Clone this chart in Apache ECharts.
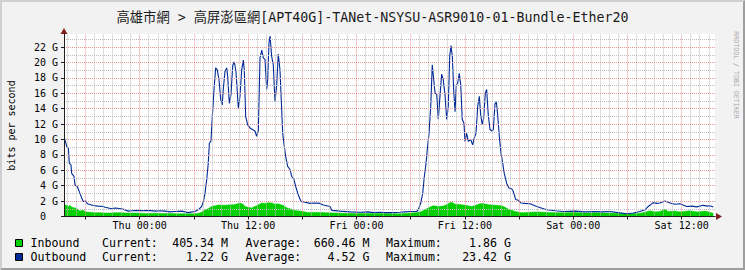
<!DOCTYPE html>
<html><head><meta charset="utf-8">
<script src="https://cdn.jsdelivr.net/npm/echarts@6/dist/echarts.min.js"></script>
<style>
html,body{margin:0;padding:0;background:#f2f2f2;}
#wrap{position:relative;width:745px;height:270px;overflow:hidden;}
#chart{position:absolute;left:0;top:0;width:745px;height:270px;}
#frame{position:absolute;left:0;top:0;width:745px;height:270px;box-sizing:border-box;border-left:2px solid #cfcfcf;border-top:2px solid #cfcfcf;border-right:2px solid #9e9e9e;border-bottom:2px solid #9e9e9e;pointer-events:none;}
</style></head>
<body><div id="wrap"><div id="chart"></div><div id="frame"></div></div>
<script>
// ---- texts ----
const titleText = '高雄市網 > 高屏澎區網[APT40G]-TANet-NSYSU-ASR9010-01-Bundle-Ether20';
const yAxisTitle = 'bits per second';
const watermark = 'RRDTOOL / TOBI OETIKER';

// ---- ticks (hours relative to Thu 00:00) ----
const xLabelHours = [0, 12, 24, 36, 48, 60];
const xLabels = ['Thu 00:00', 'Thu 12:00', 'Fri 00:00', 'Fri 12:00', 'Sat 00:00', 'Sat 12:00'];
const xMajorHours = [-6, 0, 6, 12, 18, 24, 30, 36, 42, 48, 54, 60];
const xMinorHours = [-8, -7, -5, -4, -3, -2, -1, 1, 2, 3, 4, 5, 7, 8, 9, 10, 11, 13, 14, 15, 16, 17, 19, 20, 21, 22, 23,
  25, 26, 27, 28, 29, 31, 32, 33, 34, 35, 37, 38, 39, 40, 41, 43, 44, 45, 46, 47, 49, 50, 51, 52, 53, 55, 56, 57, 58, 59, 61, 62, 63];
const yLabelValues = [0, 2, 4, 6, 8, 10, 12, 14, 16, 18, 20, 22];
const yLabels = ['0\u00a0\u00a0', '2 G', '4 G', '6 G', '8 G', '10 G', '12 G', '14 G', '16 G', '18 G', '20 G', '22 G'];
const yMajorValues = [2, 4, 6, 8, 10, 12, 14, 16, 18, 20, 22];
const yMinorValues = [1, 3, 5, 7, 9, 11, 13, 15, 17, 19, 21, 23];

// ---- Inbound (Gbit/s) ----
const inHours = [-8.33,-8.08,-7.88,-7.72,-7.50,-7.27,-6.94,-6.61,-6.28,-5.95,
  -5.51,-4.95,-4.40,-3.84,-3.29,-2.73,-2.18,-1.44,-0.52,0.59,
  1.69,2.25,3.35,4.10,5.01,5.93,6.45,6.86,7.23,7.56,
  7.97,8.34,8.70,9.44,9.81,10.55,11.10,11.44,11.66,11.99,
  12.40,12.65,12.95,13.51,13.87,14.24,14.65,14.98,15.31,15.72,
  15.97,16.27,16.64,17.19,17.75,18.67,19.41,20.70,21.62,22.54,
  23.84,24.94,26.24,27.16,28.08,28.82,29.37,29.92,30.59,31.22,
  31.58,31.95,32.25,32.51,33.06,33.58,33.91,34.35,34.57,34.91,
  35.46,35.82,36.34,36.75,37.23,37.67,38.01,38.45,38.97,39.44,
  40.08,40.44,40.81,41.22,41.55,42.29,43.21,43.98,44.87,45.98,
  47.08,48.19,49.30,50.41,51.51,52.62,53.73,54.61,55.38,55.94,
  56.49,57.05,57.60,58.15,58.49,59.26,59.81,60.92,61.70,62.58,
  63.13,63.50];
const inValues = [1.5,1.45,1.3,1.45,1.2,1.15,1.0,0.7,0.8,0.6,
  0.55,0.5,0.5,0.45,0.45,0.5,0.5,0.45,0.45,0.4,
  0.42,0.4,0.38,0.35,0.37,0.35,0.4,0.55,0.87,1.0,
  1.3,1.4,1.5,1.45,1.5,1.55,1.75,1.6,1.3,1.2,
  1.1,1.25,1.4,1.75,1.7,1.8,1.75,1.6,1.65,1.5,
  1.4,1.15,1.0,0.78,0.7,0.52,0.55,0.5,0.45,0.42,
  0.4,0.38,0.4,0.38,0.35,0.35,0.4,0.45,0.5,0.65,
  0.9,1.1,1.3,1.4,1.3,1.35,1.5,1.8,1.86,1.6,
  1.55,1.5,1.4,1.3,1.45,1.65,1.7,1.55,1.5,1.45,
  1.4,1.2,0.95,0.8,0.65,0.5,0.55,0.6,0.55,0.5,
  0.48,0.52,0.45,0.5,0.45,0.42,0.4,0.38,0.42,0.55,
  0.75,0.6,0.65,0.95,0.65,0.7,0.6,0.75,0.6,0.7,
  0.55,0.41];

// ---- Outbound (Gbit/s) ----
const outHours = [-8.33,-8.08,-7.90,-7.79,-7.61,-7.53,-7.27,-7.16,-6.91,-6.61,
  -6.42,-6.24,-5.94,-5.80,-5.14,-4.62,-4.03,-3.84,-3.10,-2.73,
  -1.99,-1.26,-0.89,-0.15,0.37,0.95,1.69,2.25,2.80,3.35,
  3.91,4.65,5.01,5.38,5.79,6.12,6.51,6.86,7.06,7.23,
  7.42,7.59,7.71,7.89,8.04,8.23,8.41,8.59,8.78,8.97,
  9.14,9.25,9.44,9.63,9.74,9.92,10.11,10.30,10.47,10.66,
  10.92,11.10,11.29,11.47,11.58,11.73,11.96,12.21,12.47,12.76,
  12.95,13.13,13.32,13.51,13.68,13.87,14.06,14.17,14.31,14.43,
  14.61,14.79,14.98,15.17,15.34,15.53,15.72,15.83,16.01,16.16,
  16.38,16.64,16.83,17.08,17.27,17.56,17.86,18.30,18.85,19.41,
  19.96,20.33,20.70,21.07,21.26,22.18,23.29,24.40,25.30,25.86,
  26.60,27.16,28.08,28.82,29.37,29.92,30.66,30.84,31.11,31.33,
  31.51,31.70,31.84,32.03,32.22,32.39,32.55,32.70,32.88,33.06,
  33.24,33.43,33.61,33.80,33.99,34.16,34.32,34.46,34.61,34.76,
  34.91,35.05,35.20,35.38,35.54,35.71,35.90,36.01,36.20,36.38,
  36.64,36.86,37.04,37.23,37.42,37.60,37.75,37.93,38.08,38.26,
  38.41,38.59,38.78,38.97,39.15,39.33,39.48,39.63,39.81,40.00,
  40.19,40.36,40.63,40.88,41.18,41.36,41.63,41.91,42.21,42.65,
  43.21,43.95,45.06,45.98,46.90,48.19,49.30,50.22,51.18,52.07,
  52.95,53.91,54.64,55.38,55.94,56.30,56.86,57.23,57.60,58.15,
  58.71,59.26,59.81,60.56,61.11,61.66,62.39,62.91,63.13,63.50];
const outValues = [10.2,9.1,8.9,6.9,6.7,5.6,5.2,4.1,3.9,3.0,
  2.4,1.95,2.0,1.65,1.43,1.35,1.3,1.2,1.0,1.1,
  1.0,0.7,0.75,0.8,0.75,0.8,0.7,0.75,0.7,0.6,
  0.65,0.7,0.6,0.5,0.6,0.65,0.9,1.3,2.0,3.0,
  4.8,6.9,9.5,9.8,13.0,16.5,19.3,19.05,17.75,15.2,
  14.5,16.5,18.8,19.3,18.2,14.7,15.9,19.6,20.1,18.8,
  14.1,15.6,19.05,20.3,19.05,13.0,11.9,11.5,11.3,11.1,
  10.4,11.1,20.6,21.6,20.6,20.4,16.5,17.75,22.5,23.42,
  20.8,19.7,14.9,17.1,21.1,19.05,13.9,10.8,9.1,7.8,
  6.5,6.1,5.2,4.8,3.9,2.8,1.95,1.85,1.7,1.75,
  1.7,1.5,1.4,1.3,0.8,0.7,0.6,0.55,0.6,0.5,
  0.55,0.5,0.5,0.55,0.6,0.65,0.65,0.87,1.75,3.0,
  5.2,6.9,8.7,10.8,14.3,19.7,17.75,16.0,15.9,12.65,
  15.6,18.5,17.75,15.8,12.6,14.3,20.8,22.2,20.8,16.5,
  13.6,17.1,17.3,18.6,17.1,12.6,12.1,9.75,10.8,9.75,
  10.0,9.3,10.2,10.8,14.3,15.6,13.2,11.9,12.8,16.0,
  16.5,13.2,11.3,11.1,11.3,14.6,14.9,13.2,10.4,8.2,
  6.9,5.6,4.3,3.7,3.6,3.25,2.2,2.1,1.75,1.7,
  1.65,1.3,0.87,0.75,0.65,0.7,0.6,0.65,0.6,0.65,
  0.5,0.35,0.45,0.65,0.87,1.3,1.8,1.7,1.75,2.0,
  1.75,1.6,1.65,1.3,1.35,1.25,1.45,1.35,1.4,1.22];

// ---- legend ----
const legendNames = ['Inbound', 'Outbound'];
const legendColors = ['#00cf00', '#002a97'];
const currentText = ['405.34 M', '1.22 G'];
const averageText = ['660.46 M', '4.52 G'];
const maximumText = ['1.86 G', '23.42 G'];

// ---- styles ----
const MONO = '"DejaVu Sans Mono", "Noto Sans CJK TC", monospace';
const X_MIN = -8.38, X_MAX = 63.69, Y_MAX = 23.7;
const minorGrid = { color: '#bdbdbd', width: 1, type: [1, 1] };
const majorGrid = { color: '#ec9595', width: 1, type: [1, 1] };

const pair = (hs, vs) => hs.map((h, i) => [h, vs[i]]);
const gridLines = [].concat(
  xMinorHours.map(h => ({ xAxis: h, lineStyle: minorGrid })),
  yMinorValues.map(v => ({ yAxis: v, lineStyle: minorGrid })),
  xMajorHours.map(h => ({ xAxis: h, lineStyle: majorGrid })),
  yMajorValues.map(v => ({ yAxis: v, lineStyle: majorGrid }))
);

function txt(text, x, y, align, extra) {
  return Object.assign({
    type: 'text', x: x, y: y, silent: true,
    style: Object.assign({ text: text, fill: '#000', font: '11.6px ' + MONO,
      align: align, textAlign: align, verticalAlign: 'middle', textVerticalAlign: 'middle' }, extra || {})
  });
}
const rowY = [242.5, 256.5];
const graphics = [];
legendNames.forEach((n, i) => {
  const y = rowY[i];
  graphics.push({ type: 'rect', silent: true, shape: { x: 15.5, y: y - 3, width: 7, height: 7 },
    style: { fill: legendColors[i], stroke: '#000', lineWidth: 1 } });
  graphics.push(txt(n, 30.5, y, 'left'));
  graphics.push(txt('Current:', 102, y, 'left'));
  graphics.push(txt(currentText[i], 228, y, 'right'));
  graphics.push(txt('Average:', 245.5, y, 'left'));
  graphics.push(txt(averageText[i], 369.5, y, 'right'));
  graphics.push(txt('Maximum:', 386, y, 'left'));
  graphics.push(txt(maximumText[i], 511, y, 'right'));
});
graphics.push(Object.assign(txt(yAxisTitle, 11.5, 125.5, 'center', { font: '10px ' + MONO }), { rotation: Math.PI / 2 }));
graphics.push(Object.assign(txt(watermark, 736, 75, 'center', { font: '6.6px ' + MONO, fill: '#a6a6a6' }), { rotation: -Math.PI / 2 }));

const chart = echarts.init(document.getElementById('chart'), null, { renderer: 'svg' });
chart.setOption({
  animation: false,
  backgroundColor: '#f2f2f2',
  title: { text: titleText, left: 'center', top: 6,
    textStyle: { fontFamily: MONO, fontSize: 13.3, fontWeight: 'normal', color: '#1a1a1a' } },
  grid: { left: 64, right: 30, top: 34, bottom: 53.5, show: true, backgroundColor: '#ffffff', borderWidth: 0 },
  xAxis: [
    { type: 'value', min: X_MIN, max: X_MAX, position: 'bottom', z: 5,
      axisLine: { show: true, onZero: false, lineStyle: { color: '#1f1f1f', width: 1 } },
      axisTick: { show: true, customValues: xMajorHours, length: 3, lineStyle: { color: '#1f1f1f' } },
      axisLabel: { show: true, customValues: xLabelHours, margin: 4, color: '#000', fontFamily: MONO, fontSize: 10,
        formatter: v => { const k = xLabelHours.indexOf(v); return k >= 0 ? xLabels[k] : ''; } },
      splitLine: { show: false } },
    { type: 'value', min: X_MIN, max: X_MAX, position: 'bottom', z: 4,
      axisLine: { show: true, onZero: false, symbol: ['none', 'triangle'], symbolSize: [7, 6], symbolOffset: [0, 4],
        lineStyle: { color: '#801f1f', width: 1 } },
      axisTick: { show: false }, axisLabel: { show: false }, splitLine: { show: false } }
  ],
  yAxis: [
    { type: 'value', min: 0, max: Y_MAX, interval: 2, position: 'left', z: 5,
      axisLine: { show: true, onZero: false, lineStyle: { color: '#1f1f1f', width: 1 } },
      axisTick: { show: true, customValues: yLabelValues, length: 3, lineStyle: { color: '#1f1f1f' } },
      axisLabel: { show: true, customValues: yLabelValues, margin: 6, color: '#000', fontFamily: MONO, fontSize: 10,
        formatter: v => { const k = yLabelValues.indexOf(v); return k >= 0 ? yLabels[k] : ''; } },
      splitLine: { show: false } },
    { type: 'value', min: 0, max: Y_MAX, position: 'left', z: 4,
      axisLine: { show: true, onZero: false, symbol: ['none', 'triangle'], symbolSize: [7, 6], symbolOffset: [0, 3],
        lineStyle: { color: '#801f1f', width: 1 } },
      axisTick: { show: false }, axisLabel: { show: false }, splitLine: { show: false } }
  ],
  graphic: { elements: graphics },
  series: [
    { name: 'grid', type: 'line', data: [], xAxisIndex: 0, yAxisIndex: 0, z: 1, silent: true,
      markLine: { silent: true, symbol: ['none', 'none'], label: { show: false }, emphasis: { disabled: true },
        data: gridLines } },
    { name: legendNames[0], type: 'line', xAxisIndex: 0, yAxisIndex: 0, z: 2, showSymbol: false, silent: true,
      data: pair(inHours, inValues),
      lineStyle: { color: legendColors[0], width: 0.5 }, itemStyle: { color: legendColors[0] },
      areaStyle: { color: legendColors[0], opacity: 1 } },
    { name: legendNames[1], type: 'line', xAxisIndex: 0, yAxisIndex: 0, z: 3, showSymbol: false, silent: true,
      data: pair(outHours, outValues),
      lineStyle: { color: legendColors[1], width: 1.1 }, itemStyle: { color: legendColors[1] } }
  ]
});
</script>
</body></html>
